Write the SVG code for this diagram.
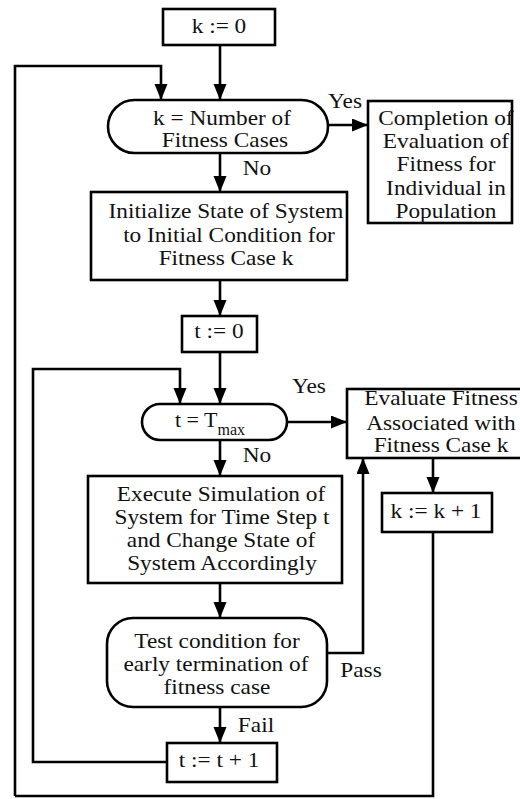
<svg xmlns="http://www.w3.org/2000/svg" width="520" height="799" viewBox="0 0 520 799">
<defs>
<marker id="ah" markerWidth="17" markerHeight="14" refX="16" refY="6.5" orient="auto" markerUnits="userSpaceOnUse">
<path d="M0,0 L16,6.5 L0,13 z" fill="#000"/>
</marker>
<style>
.box{fill:#fff;stroke:#000;stroke-width:2.6}
.ln{fill:none;stroke:#000;stroke-width:2.6}
.ar{fill:none;stroke:#000;stroke-width:2.6;marker-end:url(#ah)}
text{font-family:'Liberation Serif','Times New Roman','DejaVu Serif',serif;font-size:22px;fill:#111}
.c{text-anchor:middle;transform-box:fill-box;transform-origin:center;transform:scaleX(1.06)}
.sub{font-size:16px}
</style>
</defs>
<rect width="520" height="799" fill="#fff"/>

<g id="connectors">
<path class="ar" d="M220,45 V100"/>
<path class="ar" d="M15,796 V66 H161 V100"/>
<path class="ln" d="M433,532 V796 H15"/>
<path class="ar" d="M328,125 H368"/>
<path class="ar" d="M220,153 V192"/>
<path class="ar" d="M220,280 V316"/>
<path class="ar" d="M220,352 V404"/>
<path class="ar" d="M167,762 H33 V369 H180 V404"/>
<path class="ar" d="M287,422 H347"/>
<path class="ar" d="M433,458 V493"/>
<path class="ar" d="M220,440 V476"/>
<path class="ar" d="M220,583 V618"/>
<path class="ar" d="M327,653 H363 V458"/>
<path class="ar" d="M220,707 V743"/>
<text class="c" x="345" y="108" font-family="Liberation Serif, serif">Yes</text>
<text class="c" x="257" y="175">No</text>
<text class="c" x="309" y="393">Yes</text>
<text class="c" x="257" y="462">No</text>
<text class="c" x="361" y="677">Pass</text>
<text class="c" x="256" y="732">Fail</text>
</g>

<g id="k0">
<rect class="box" x="163" y="9" width="112" height="36"/>
<text class="c" x="219" y="33">k := 0</text>
</g>

<g id="kcheck">
<rect class="box" x="108" y="100" width="220" height="53" rx="26.5"/>
<text class="c" x="222" y="125">k = Number of</text>
<text class="c" x="225" y="147">Fitness Cases</text>
</g>

<g id="completion">
<rect class="box" x="368" y="101" width="144" height="122"/>
<text class="c" x="446" y="125">Completion of</text>
<text class="c" x="446" y="148">Evaluation of</text>
<text class="c" x="446" y="171">Fitness for</text>
<text class="c" x="446" y="195">Individual in</text>
<text class="c" x="446" y="218">Population</text>
</g>

<g id="init">
<rect class="box" x="91" y="192" width="256" height="88"/>
<text class="c" x="226" y="218">Initialize State of System</text>
<text class="c" x="229" y="242">to Initial Condition for</text>
<text class="c" x="226" y="265">Fitness Case k</text>
</g>

<g id="t0">
<rect class="box" x="182" y="316" width="75" height="36"/>
<text class="c" x="219" y="338">t := 0</text>
</g>

<g id="tcheck">
<rect class="box" x="142" y="404" width="145" height="36" rx="18"/>
<text x="175" y="427">t = T<tspan class="sub" dy="8">max</tspan></text>
</g>

<g id="evaluate">
<rect class="box" x="347" y="389" width="176" height="69"/>
<text class="c" x="441" y="405">Evaluate Fitness</text>
<text class="c" x="441" y="430">Associated with</text>
<text class="c" x="441" y="452">Fitness Case k</text>
</g>

<g id="kinc">
<rect class="box" x="382" y="493" width="110" height="39"/>
<text class="c" x="436" y="518">k := k + 1</text>
</g>

<g id="execute">
<rect class="box" x="88" y="476" width="254" height="107"/>
<text class="c" x="221" y="501">Execute Simulation of</text>
<text class="c" x="222" y="524">System for Time Step t</text>
<text class="c" x="221" y="547">and Change State of</text>
<text class="c" x="222" y="570">System Accordingly</text>
</g>

<g id="test">
<rect class="box" x="107" y="618" width="220" height="89" rx="26"/>
<text class="c" x="217" y="648">Test condition for</text>
<text class="c" x="216" y="671">early termination of</text>
<text class="c" x="217" y="694">fitness case</text>
</g>

<g id="tinc">
<rect class="box" x="167" y="743" width="110" height="39"/>
<text class="c" x="219" y="767">t := t + 1</text>
</g>
</svg>
